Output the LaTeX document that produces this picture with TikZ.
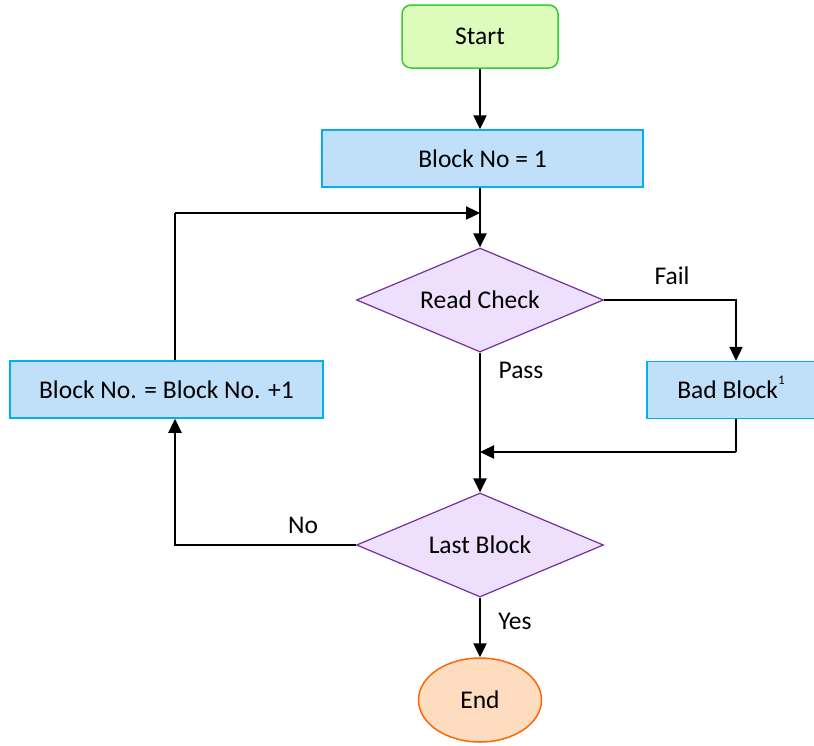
\documentclass[tikz,border=0pt]{standalone}
\usepackage{fontspec}
\setmainfont{Carlito}
\usetikzlibrary{shapes.geometric,arrows.meta}
\definecolor{startfill}{HTML}{DDFBBB}
\definecolor{startline}{HTML}{33CC33}
\definecolor{boxfill}{HTML}{C0E0FA}
\definecolor{boxline}{HTML}{00B0F0}
\definecolor{decfill}{HTML}{EEE0FC}
\definecolor{decline}{HTML}{7030A0}
\definecolor{endfill}{HTML}{FDDCC0}
\definecolor{endline}{HTML}{FF6600}
\tikzset{
  every node/.style={font=\fontsize{25.5}{30}\selectfont},
  startbox/.style={draw=startline, fill=startfill, line width=1.5pt, rounded corners=9pt,
    minimum width=156pt, minimum height=63pt},
  procbox/.style={draw=boxline, fill=boxfill, line width=1.5pt, minimum height=57pt},
  decbox/.style={draw=decline, fill=decfill, line width=1.2pt, diamond, aspect=2.375,
    minimum width=247pt, minimum height=104pt, inner sep=0pt},
  endbox/.style={draw=endline, fill=endfill, line width=1.5pt, ellipse,
    minimum width=123pt, minimum height=84pt},
  wire/.style={line width=2.4pt},
  flow/.style={wire, -{Triangle[length=14pt,width=13pt]}},
  lbl/.style={font=\fontsize{25.5}{30}\selectfont},
}
\begin{document}
\begin{tikzpicture}[x=1pt,y=-1pt]
\useasboundingbox (0,0) rectangle (814,745);
% nodes
\node[startbox] (start) at (480,36.5) {Start};
\node[procbox, minimum width=321pt] (init) at (482.5,158.5) {Block No = 1};
\node[decbox] (read) at (480,300) {Read Check};
\node[procbox, minimum width=168pt] (bad) at (731,390)
  {Bad Block\smash{\raisebox{1.15ex}{\fontsize{13}{13}\selectfont 1}}};
\node[procbox, minimum width=313pt] (incr) at (166.5,389.5) {Block No. = Block No. +1};
\node[decbox] (last) at (480,545) {Last Block};
\node[endbox] (end) at (480,700) {End};
% junction points
\coordinate (j1) at (480,213);
\coordinate (j2) at (480,452);
\coordinate (fc) at (736,300);
\coordinate (bc) at (736,452);
\coordinate (nc) at (175,545);
\coordinate (uc) at (175,213);
% connectors
\draw[flow] (start.south) -- (start.south |- init.north);
\draw[wire] (start.south |- init.south) -- (j1);
\draw[flow] (j1) -- (read.north);
\draw[flow] (read.east) -- (fc) -- (bad.north -| fc);
\draw[wire] (bad.south -| bc) -- (bc);
\draw[flow] (bc) -- (j2);
\draw[flow] (read.south) -- (last.north);
\draw[flow] (last.west) -- (nc) -- (incr.south -| nc);
\draw[wire] (incr.north -| uc) -- (uc);
\draw[flow] (uc) -- (j1);
\draw[flow] (last.south) -- (end.north);
% labels
\node[lbl] (lfail) at (672,276) {Fail};
\node[lbl] (lpass) at (521,370) {Pass};
\node[lbl] (lno) at (303,525) {No};
\node[lbl] (lyes) at (515,621) {Yes};
\end{tikzpicture}
\end{document}
